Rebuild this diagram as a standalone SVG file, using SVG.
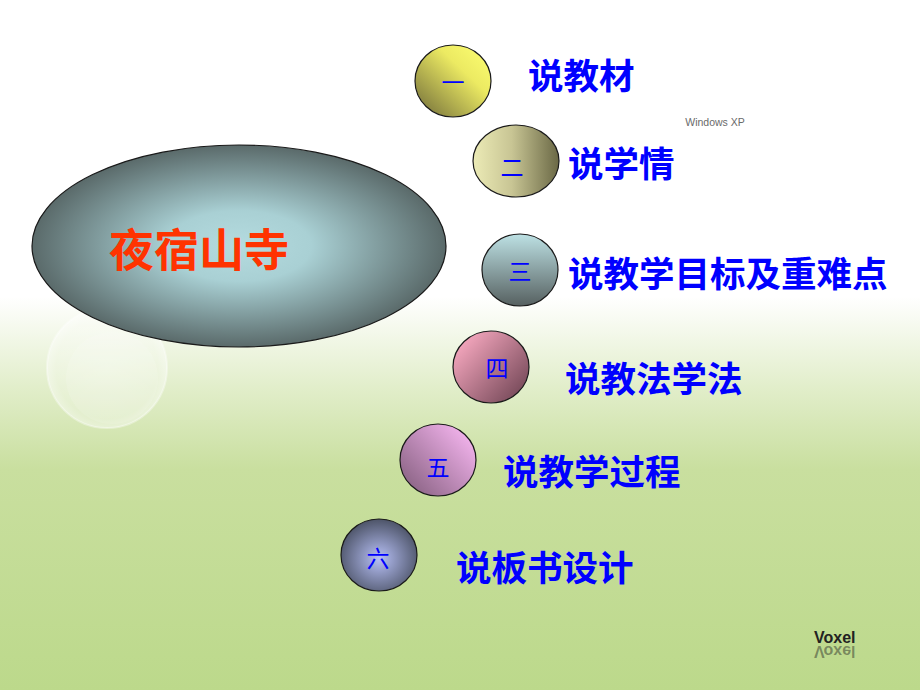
<svg xmlns="http://www.w3.org/2000/svg" width="920" height="690" viewBox="0 0 920 690">
<defs>
<linearGradient id="bg" x1="0" y1="0" x2="0" y2="1">
<stop offset="0" stop-color="#ffffff"/>
<stop offset="0.43" stop-color="#ffffff"/>
<stop offset="0.56" stop-color="#e2eecb"/>
<stop offset="0.68" stop-color="#c9df9f"/>
<stop offset="1" stop-color="#bcd98b"/>
</linearGradient>
<radialGradient id="gBig" cx="0.5" cy="0.5" r="0.5">
<stop offset="0" stop-color="#b4dbdf"/>
<stop offset="0.35" stop-color="#a9d0d4"/>
<stop offset="1" stop-color="#5a6a6a"/>
</radialGradient>
<linearGradient id="g1" x1="0.85" y1="0.15" x2="0.15" y2="0.85">
<stop offset="0" stop-color="#f7f76c"/>
<stop offset="0.3" stop-color="#ecea62"/>
<stop offset="1" stop-color="#8a8642"/>
</linearGradient>
<linearGradient id="g2" x1="0" y1="0" x2="1" y2="0">
<stop offset="0" stop-color="#ecebb6"/>
<stop offset="0.45" stop-color="#c8c594"/>
<stop offset="1" stop-color="#6a6845"/>
</linearGradient>
<linearGradient id="g3" x1="0" y1="0" x2="0" y2="1">
<stop offset="0" stop-color="#bde1e4"/>
<stop offset="1" stop-color="#566060"/>
</linearGradient>
<linearGradient id="g4" x1="0.1" y1="0.15" x2="0.9" y2="0.85">
<stop offset="0" stop-color="#f4a6bd"/>
<stop offset="1" stop-color="#7a4c5c"/>
</linearGradient>
<linearGradient id="g5" x1="0.9" y1="0.15" x2="0.1" y2="0.85">
<stop offset="0" stop-color="#f1b2eb"/>
<stop offset="1" stop-color="#8e6688"/>
</linearGradient>
<radialGradient id="g6" cx="0.5" cy="0.55" r="0.55">
<stop offset="0" stop-color="#b7c0f6"/>
<stop offset="1" stop-color="#4d5468"/>
</radialGradient>
<radialGradient id="bubble" cx="0.5" cy="0.5" r="0.5">
<stop offset="0" stop-color="#ffffff" stop-opacity="0.35"/>
<stop offset="0.85" stop-color="#ffffff" stop-opacity="0.25"/>
<stop offset="1" stop-color="#ffffff" stop-opacity="0.45"/>
</radialGradient>
</defs>
<style>
.node ellipse { stroke: #1a1a1a; stroke-width: 1.2; }
.num { font-family: "Noto Sans CJK SC", "Liberation Sans", sans-serif; font-size: 23px; fill: #0000ff; text-anchor: middle; }
.lbl { font-family: "Noto Sans CJK SC", "Liberation Sans", sans-serif; font-size: 35.5px; font-weight: bold; fill: #0000ff; }
.title { font-family: "Noto Sans CJK SC", "Liberation Sans", sans-serif; font-size: 45px; font-weight: bold; fill: #ff3300; }
.logo { font-family: "Liberation Sans", "DejaVu Sans", sans-serif; font-size: 16px; font-weight: bold; }
</style>
<rect x="0" y="0" width="920" height="690" fill="url(#bg)"/>
<circle cx="107" cy="368" r="60" fill="url(#bubble)" stroke="#ffffff" stroke-opacity="0.35" stroke-width="2"/>
<circle cx="112" cy="378" r="46" fill="#ffffff" fill-opacity="0.12"/>
<text x="715" y="126" font-family="Liberation Sans, sans-serif" font-size="10.5" fill="#6a6a6a" text-anchor="middle">Windows XP</text>
<g id="title-node">
<ellipse cx="239" cy="246" rx="207" ry="101" fill="url(#gBig)" stroke="#1a1a1a" stroke-width="1.2"/>
<text class="title" x="109" y="267">夜宿山寺</text>
</g>
<g id="connectors"></g>
<g id="node1" class="node">
<ellipse cx="453" cy="81" rx="38" ry="36" fill="url(#g1)"/>
<text class="num" x="453" y="91" font-size="28">一</text>
<text class="lbl" x="528" y="89">说教材</text>
</g>
<g id="node2" class="node">
<ellipse cx="516" cy="161" rx="43" ry="36" fill="url(#g2)"/>
<text class="num" x="512" y="176">二</text>
<text class="lbl" x="568" y="177">说学情</text>
</g>
<g id="node3" class="node">
<ellipse cx="520" cy="270" rx="38" ry="36" fill="url(#g3)"/>
<text class="num" x="520" y="280">三</text>
<text class="lbl" x="568" y="287">说教学目标及重难点</text>
</g>
<g id="node4" class="node">
<ellipse cx="491" cy="367" rx="38" ry="36" fill="url(#g4)"/>
<text class="num" x="497" y="377">四</text>
<text class="lbl" x="565" y="392">说教法学法</text>
</g>
<g id="node5" class="node">
<ellipse cx="438" cy="460" rx="38" ry="36" fill="url(#g5)"/>
<text class="num" x="438" y="476">五</text>
<text class="lbl" x="503" y="485">说教学过程</text>
</g>
<g id="node6" class="node">
<ellipse cx="379" cy="555" rx="38" ry="36" fill="url(#g6)"/>
<text class="num" x="378" y="567">六</text>
<text class="lbl" x="456" y="581">说板书设计</text>
</g>
<g id="logo">
<text class="logo" x="814" y="643" fill="#222222">Voxel</text>
<text class="logo" x="814" y="-646" fill="#222222" fill-opacity="0.45" transform="scale(1,-1)">Voxel</text>
</g>
</svg>
